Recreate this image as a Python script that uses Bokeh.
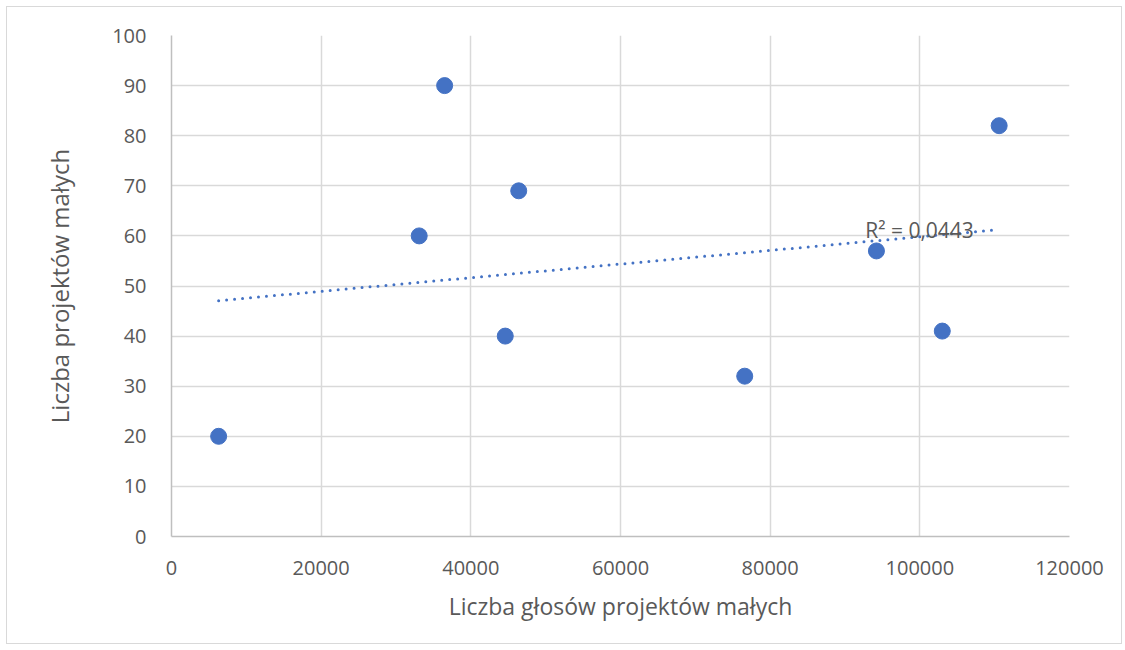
import numpy as np
from bokeh.plotting import figure
from bokeh.models import Range1d, FixedTicker, Label, NumeralTickFormatter
from bokeh.embed import file_html
from bokeh.resources import INLINE

votes = [6300, 33100, 36500, 44600, 46400, 76600, 94200, 103000, 110600]
projects = [20, 60, 90, 40, 69, 32, 57, 41, 82]
x_ticks = [0, 20000, 40000, 60000, 80000, 100000, 120000]
y_ticks = [0, 10, 20, 30, 40, 50, 60, 70, 80, 90, 100]
r2_label = "R² = 0,0443"

FONT = "Open Sans"
TXT = "#595959"

p = figure(width=1116, height=638, output_backend="svg", toolbar_location=None,
           x_range=Range1d(0, 120000), y_range=Range1d(0, 100),
           min_border_left=164, min_border_right=54, min_border_top=28, min_border_bottom=109)
p.styles = {"border": "1px solid #d9d9d9", "box-sizing": "border-box",
            "margin-left": "6px", "margin-top": "6px"}
p.outline_line_color = None

# trend line
xs = np.array(votes, dtype=float)
ys = np.array(projects, dtype=float)
k, b = np.polyfit(xs, ys, 1)
tx = [xs.min(), xs.max()]
p.line(tx, [k * tx[0] + b, k * tx[1] + b], line_color="#4472C4", line_width=3,
       line_dash="0 8", line_cap="round")

p.scatter(votes, projects, size=16, fill_color="#4472C4", line_color="#4472C4")

p.add_layout(Label(x=92700, y=61.1, text=r2_label, text_font=FONT, text_font_size="21px",
                   text_color=TXT, text_align="left", text_baseline="middle"))

for ax in (p.xaxis[0], p.yaxis[0]):
    ax.major_tick_line_color = None
    ax.minor_tick_line_color = None
    ax.axis_line_color = "#bfbfbf"
    ax.axis_line_width = 1.5
    ax.major_label_text_font = FONT
    ax.major_label_text_font_size = "20px"
    ax.major_label_text_color = TXT
    ax.axis_label_text_font = FONT
    ax.axis_label_text_color = TXT
    ax.axis_label_text_font_style = "normal"
    ax.formatter = NumeralTickFormatter(format="0")

p.xaxis.axis_label_text_font_size = "23px"
p.yaxis.axis_label_text_font_size = "24px"
p.xaxis.ticker = FixedTicker(ticks=x_ticks)
p.yaxis.ticker = FixedTicker(ticks=y_ticks)
p.xaxis.axis_label = "Liczba głosów projektów małych"
p.yaxis.axis_label = "Liczba projektów małych"
p.xaxis.major_label_standoff = 18
p.yaxis.major_label_standoff = 19
p.xaxis.axis_label_standoff = 12
p.yaxis.axis_label_standoff = 33
p.xgrid.grid_line_color = "#d9d9d9"
p.ygrid.grid_line_color = "#d9d9d9"
p.xgrid.ticker = FixedTicker(ticks=x_ticks)
p.ygrid.ticker = FixedTicker(ticks=y_ticks)
p.xgrid.grid_line_width = 1.5
p.ygrid.grid_line_width = 1.5

open("out.html", "w").write(file_html(p, INLINE))
